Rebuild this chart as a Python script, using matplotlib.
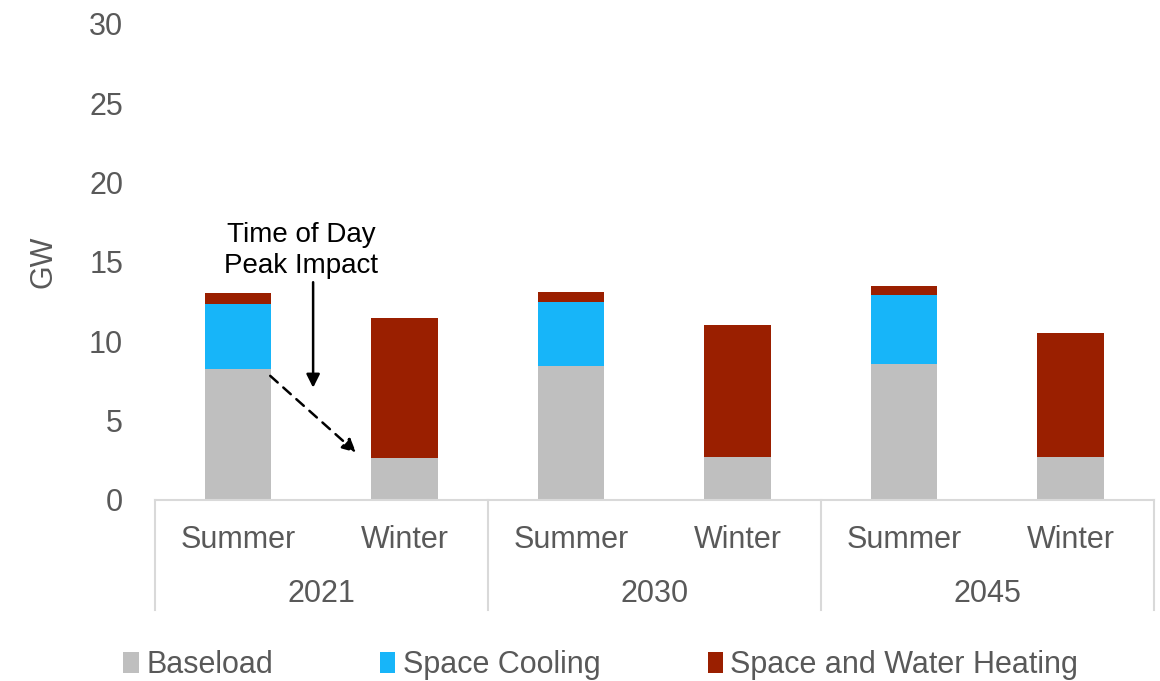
import matplotlib
matplotlib.use("Agg")
import matplotlib.pyplot as plt
import numpy as np
from matplotlib.patches import Patch

# data (GW)
years = ["2021", "2030", "2045"]
seasons = ["Summer", "Winter"]
baseload = [8.25, 2.65, 8.45, 2.7, 8.55, 2.7]
space_cooling = [4.1, 0.0, 4.05, 0.0, 4.4, 0.0]
space_water_heating = [0.7, 8.85, 0.6, 8.3, 0.55, 7.8]

series_names = ["Baseload", "Space Cooling", "Space and Water Heating"]
colors = ["#BFBFBF", "#17B5F9", "#9A1F00"]
text_gray = "#595959"
line_gray = "#D9D9D9"

plt.rcParams["font.family"] = ["Liberation Sans", "DejaVu Sans"]

fig = plt.figure(figsize=(11.6, 6.81), dpi=100)
ax = fig.add_axes([0.1336, 0.2658, 0.861, 0.699])

x = np.arange(len(baseload))
bottom = np.zeros(len(x))
for vals, col in zip([baseload, space_cooling, space_water_heating], colors):
    ax.bar(x, vals, width=0.4, bottom=bottom, color=col, edgecolor="none")
    bottom += np.array(vals)

ax.set_xlim(-0.5, 5.5)
ax.set_ylim(0, 30)
ax.set_yticks(range(0, 31, 5))
ax.tick_params(axis="y", length=0, labelsize=22, labelcolor=text_gray, pad=23)
ax.set_xticks([])
for s in ["top", "right", "left"]:
    ax.spines[s].set_visible(False)
ax.spines["bottom"].set_color(line_gray)
ax.spines["bottom"].set_linewidth(1.5)
ax.set_ylabel("GW", fontsize=22, color=text_gray, labelpad=22)

# two-level category axis
trans = ax.get_xaxis_transform()
for i in x:
    ax.text(i, -0.084, seasons[i % 2], transform=trans, ha="center", va="center",
            fontsize=22, color=text_gray)
for g, yr in enumerate(years):
    ax.text(2 * g + 0.5, -0.197, yr, transform=trans, ha="center", va="center",
            fontsize=22, color=text_gray)
for b in [-0.5, 1.5, 3.5, 5.5]:
    ax.plot([b, b], [0, -0.231], transform=trans, color=line_gray, lw=1.5,
            clip_on=False)

# annotation
ax.text(0.38, 15.75, "Time of Day\nPeak Impact", ha="center", va="center",
        fontsize=20, color="black", linespacing=1.25)
ax.annotate("", xy=(0.45, 6.9), xytext=(0.45, 13.9),
            arrowprops=dict(arrowstyle="-|>", color="black", lw=1.8,
                            mutation_scale=20))
ax.annotate("", xy=(0.72, 2.88), xytext=(0.18, 7.94),
            arrowprops=dict(arrowstyle="-|>", color="black", lw=1.8,
                            linestyle=(0, (4, 3)), mutation_scale=20))

handles = [Patch(facecolor=c, edgecolor="none") for c in colors]
fig.legend(handles, series_names, loc="center", bbox_to_anchor=(0.518, 0.0235),
           ncol=3, frameon=False, fontsize=22, labelcolor=text_gray,
           handlelength=0.5, handleheight=0.7, handletextpad=0.25,
           columnspacing=3.5)

fig.savefig("out.png", dpi=100)
